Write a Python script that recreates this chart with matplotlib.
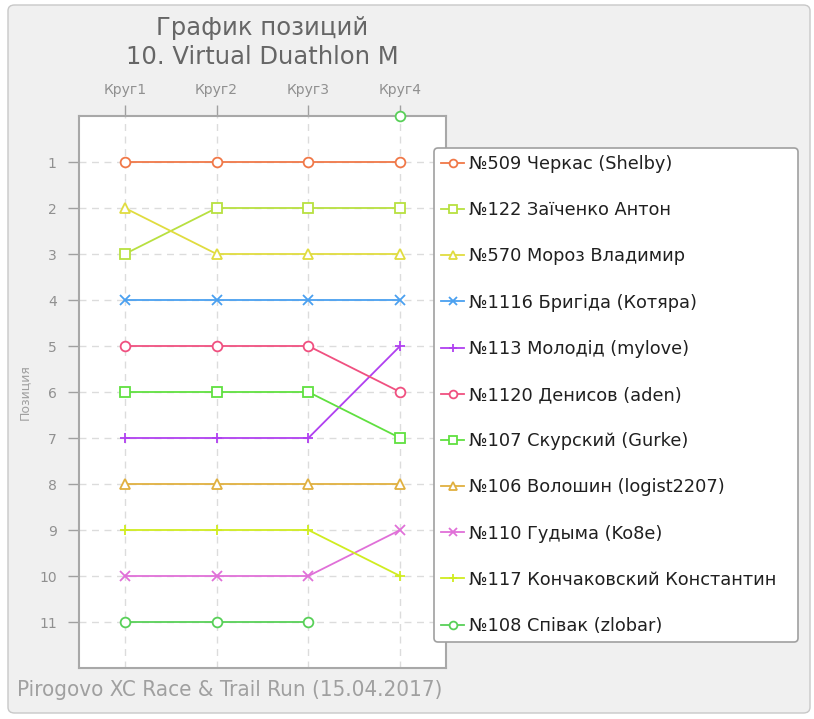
import matplotlib
matplotlib.use("Agg")
import matplotlib.pyplot as plt
from matplotlib.patches import FancyBboxPatch
import numpy as np

laps = ["Круг1", "Круг2", "Круг3", "Круг4"]
names = [
    "№509 Черкас (Shelby)",
    "№122 Заїченко Антон",
    "№570 Мороз Владимир",
    "№1116 Бригіда (Котяра)",
    "№113 Молодід (mylove)",
    "№1120 Денисов (aden)",
    "№107 Скурский (Gurke)",
    "№106 Волошин (logist2207)",
    "№110 Гудыма (Ko8e)",
    "№117 Кончаковский Константин",
    "№108 Співак (zlobar)",
]
positions = [
    [1, 1, 1, 1],
    [3, 2, 2, 2],
    [2, 3, 3, 3],
    [4, 4, 4, 4],
    [7, 7, 7, 5],
    [5, 5, 5, 6],
    [6, 6, 6, 7],
    [8, 8, 8, 8],
    [10, 10, 10, 9],
    [9, 9, 9, 10],
    [11, 11, 11, 0],
]
colors = ["#f07848", "#b8e040", "#e0dc40", "#4aa0f0", "#b040f0", "#f05080",
          "#60e040", "#e0b040", "#e070d8", "#d0ec20", "#58d058"]
markers = ["o", "s", "^", "x", "+", "o", "s", "^", "x", "+", "o"]

W, H = 814, 719
fig = plt.figure(figsize=(W / 100, H / 100), dpi=100)
fig.patch.set_facecolor("white")
frame = FancyBboxPatch((8 / W, 6 / H), (802 / W), (708 / H),
                       boxstyle="round,pad=0,rounding_size=0.008",
                       transform=fig.transFigure, facecolor="#f0f0f0",
                       edgecolor="#c8c8c8", linewidth=1.0, zorder=-10)
fig.patches.append(frame)

ax = fig.add_axes([79 / W, 1 - 668 / H, (446 - 79) / W, (668 - 116) / H])
ax.set_facecolor("white")
x = np.arange(len(laps))
for name, pos, c, m in zip(names, positions, colors, markers):
    p = np.array(pos, dtype=float)
    valid = p > 0
    yline = np.where(valid, p, np.nan)
    ax.plot(x, yline, color=c, lw=1.3, marker=m, markersize=7,
            markerfacecolor="white", markeredgecolor=c, markeredgewidth=1.3,
            label=name, clip_on=False, zorder=3)
    if (~valid).any():
        ax.plot(x[~valid], p[~valid], linestyle="none", marker=m, markersize=7,
                markerfacecolor="white", markeredgecolor=c, markeredgewidth=1.3,
                clip_on=False, zorder=4)

ax.set_xlim(-0.5, 3.5)
ax.set_ylim(12, 0)
ax.set_xticks(x)
ax.set_xticklabels(laps)
ax.set_yticks(range(1, 12))
ax.xaxis.tick_top()
ax.tick_params(axis="both", colors="#a0a0a0", labelcolor="#909090",
               labelsize=10, length=8, width=1, direction="out", pad=6)
ax.tick_params(axis="y", pad=8)
ax.grid(True, color="#dcdcdc", linestyle=(0, (5, 4)), linewidth=1)
for s in ax.spines.values():
    s.set_color("#a8a8a8")
    s.set_linewidth(1.5)
ax.set_ylabel("Позиция", color="#a0a0a0", fontsize=9, labelpad=6)

leg = ax.legend(loc="upper left",
                bbox_to_anchor=(434 / W, 1 - 644 / H, (798 - 434) / W, (644 - 148) / H),
                bbox_transform=fig.transFigure, mode="expand", fontsize=12.8,
                frameon=True, fancybox=True, handlelength=1.3, handletextpad=0.25,
                labelspacing=1.585, borderpad=0.4, borderaxespad=0,
                markerscale=0.8)
leg.get_frame().set_edgecolor("#a0a0a0")
leg.get_frame().set_linewidth(1.2)
leg.get_frame().set_facecolor("white")
leg.get_frame().set_alpha(1)
for t in leg.get_texts():
    t.set_color("#202020")

fig.text(0.5 * (79 + 446) / W, 1 - 28 / H, "График позиций", ha="center",
         va="center", fontsize=17.5, color="#666666")
fig.text(0.5 * (79 + 446) / W, 1 - 57 / H, "10. Virtual Duathlon M", ha="center",
         va="center", fontsize=17.5, color="#666666")
fig.text(17 / W, 1 - 690 / H, "Pirogovo XC Race & Trail Run (15.04.2017)",
         ha="left", va="center", fontsize=16, color="#a0a0a0",
         fontfamily="DejaVu Sans", fontstretch="condensed")

fig.savefig("out.png", dpi=100)
